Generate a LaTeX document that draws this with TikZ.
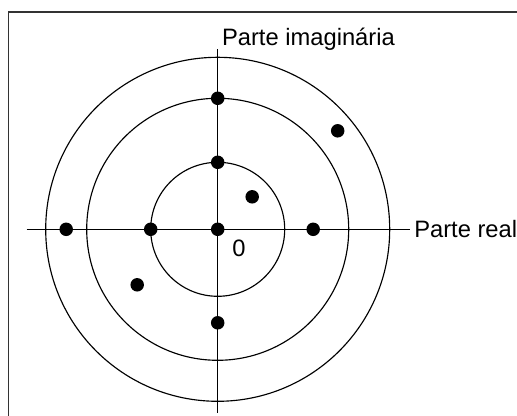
\documentclass[tikz,border=0pt]{standalone}
\usepackage{fontspec}
\setmainfont{Liberation Sans}
\usetikzlibrary{calc}

\begin{document}
\begin{tikzpicture}[line width=0.65pt,
  dot/.style={circle, fill=black, inner sep=0pt, minimum size=0.27cm},
  lbl/.style={inner sep=0pt, font=\fontsize{13.5}{15}\selectfont}]
  \useasboundingbox (-4.354,-3.734) rectangle (5.986,4.586);
  \draw[line width=0.7pt, black!80] (-4.18,-4) |- (6.2,4.346);
  \coordinate (O) at (0,0);
  \coordinate (W) at (-3.82,0); \coordinate (E) at (3.85,0);
  \coordinate (S) at (0,-3.67); \coordinate (N) at (0,3.61);
  \draw (O) circle (1.34); \draw (O) circle (2.62); \draw (O) circle (3.44);
  \draw (W) -- (E); \draw (S) -- (N);
  \node[lbl, anchor=base west] (re) at (3.92,-0.16) {Parte real};
  \node[lbl, anchor=base west] (im) at (0.076,3.666) {Parte imaginária};
  \node[lbl, anchor=base west] (zero) at (0.28,-0.548) {0};
  \foreach \x/\y [count=\i] in {0/0, 0/1.34, 0/2.62, -1.34/0, -3.03/0, 1.91/0, 0/-1.87, 0.69/0.65, 2.4/1.97, -1.61/-1.11}
    \node[dot] (d\i) at (\x,\y) {};
\end{tikzpicture}
\end{document}
